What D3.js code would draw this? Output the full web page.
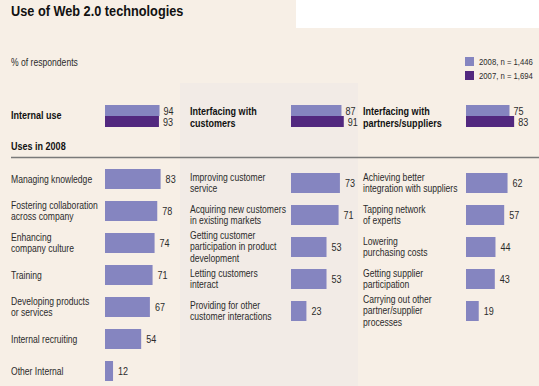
<!DOCTYPE html>
<html>
<head>
<meta charset="utf-8">
<script src="https://cdn.jsdelivr.net/npm/d3@7"></script>
<style>
  body { margin: 0; background: #f7efe6; }
  svg { display: block; font-family: "Liberation Sans", Arial, sans-serif; }
</style>
</head>
<body>
<div id="chart"></div>
<script>
// summary: share using Web 2.0 per area
var groups = ['Internal use', 'Interfacing with\ncustomers', 'Interfacing with\npartners/suppliers']
var values2008 = [94, 87, 75]
var values2007 = [93, 91, 83]

var legendLabels = ['2008, n = 1,446', '2007, n = 1,694']

// uses in 2008
var internalCats = [
  'Managing knowledge',
  'Fostering collaboration\nacross company',
  'Enhancing\ncompany culture',
  'Training',
  'Developing products\nor services',
  'Internal recruiting',
  'Other Internal',
]
var internalVals = [83, 78, 74, 71, 67, 54, 12]

var customerCats = [
  'Improving customer\nservice',
  'Acquiring new customers\nin existing markets',
  'Getting customer\nparticipation in product\ndevelopment',
  'Letting customers\ninteract',
  'Providing for other\ncustomer interactions',
]
var customerVals = [73, 71, 53, 53, 23]

var partnerCats = [
  'Achieving better\nintegration with suppliers',
  'Tapping network\nof experts',
  'Lowering\npurchasing costs',
  'Getting supplier\nparticipation',
  'Carrying out other\npartner/supplier\nprocesses',
]
var partnerVals = [62, 57, 44, 43, 19]

var width = 539
var height = 386
var light = '#8585c0'
var dark = '#52287f'
var textColor = '#2b2b2b'
var squeeze = 0.86 // condensed look

var svg = d3
  .select('#chart')
  .append('svg')
  .attr('width', width)
  .attr('height', height)

svg.append('rect').attr('width', width).attr('height', height).attr('fill', '#f7efe6')
// shaded middle column
svg.append('rect').attr('x', 180).attr('y', 83).attr('width', 178).attr('height', height - 83).attr('fill', '#f2ebe6')
// white box top right
svg.append('rect').attr('x', 296).attr('y', 0).attr('width', width - 296).attr('height', 28).attr('fill', '#ffffff')

// condensed text helper, lines is an array of strings
function label(x, y, lines, size, bold, color, lh, sx) {
  var t = svg
    .append('text')
    .attr('transform', 'translate(' + x + ',' + y + ') scale(' + (sx || squeeze) + ',1)')
    .style('font-size', size + 'px')
    .style('font-weight', bold ? 'bold' : 'normal')
    .attr('fill', color || textColor)
  lines.forEach(function(l, i) {
    t.append('tspan')
      .attr('x', 0)
      .attr('y', i * (lh || 12))
      .text(l)
  })
  return t
}

label(11, 16, ['Use of Web 2.0 technologies'], 14, true, '#111', 12, 0.91)
label(11, 66, ['% of respondents'], 10, false)

// legend
legendLabels.forEach(function(d, i) {
  svg
    .append('rect')
    .attr('x', 465)
    .attr('y', 57 + i * 14)
    .attr('width', 9)
    .attr('height', 9)
    .attr('fill', i == 0 ? light : dark)
  label(479, 65 + i * 14, [d], 9, false)
})

// top summary bars
var colLabelX = [11, 190, 363]
var colBarX = [105, 291, 466]
var xTop = d3.scaleLinear().domain([0, 100]).range([0, 58])
var topY = d3.scaleBand().domain(['2008', '2007']).range([105, 127])

groups.forEach(function(g, i) {
  var lines = g.split('\n')
  label(colLabelX[i], lines.length == 1 ? 119 : 115, lines, 10.5, true, '#111')

  var vals = [
    { year: '2008', v: values2008[i], c: light },
    { year: '2007', v: values2007[i], c: dark },
  ]
  svg
    .selectAll(null)
    .data(vals)
    .enter()
    .append('rect')
    .attr('x', colBarX[i])
    .attr('y', function(d) {
      return topY(d.year)
    })
    .attr('width', function(d) {
      return xTop(d.v)
    })
    .attr('height', topY.bandwidth())
    .attr('fill', function(d) {
      return d.c
    })
  vals.forEach(function(d) {
    label(colBarX[i] + xTop(d.v) + 4, topY(d.year) + topY.bandwidth() / 2 + 4.5, [String(d.v)], 10.5, false)
  })
})

label(11, 150, ['Uses in 2008'], 10.5, true, '#111')

svg
  .append('line')
  .attr('x1', 11)
  .attr('x2', width)
  .attr('y1', 157.5)
  .attr('y2', 157.5)
  .attr('stroke', '#7a7a7a')
  .attr('stroke-width', 1.3)

// lower section
var x = d3.scaleLinear().domain([0, 100]).range([0, 67])
var sections = [
  { cats: internalCats, vals: internalVals, top: 169 },
  { cats: customerCats, vals: customerVals, top: 173 },
  { cats: partnerCats, vals: partnerVals, top: 173 },
]

sections.forEach(function(s, i) {
  var y = d3
    .scaleBand()
    .domain(s.cats)
    .range([s.top, s.top + s.cats.length * 32 - 12])
    .paddingInner(12 / 32)

  var rows = s.cats.map(function(c, j) {
    return { cat: c, v: s.vals[j] }
  })

  svg
    .selectAll(null)
    .data(rows)
    .enter()
    .append('rect')
    .attr('x', colBarX[i])
    .attr('y', function(d) {
      return y(d.cat)
    })
    .attr('width', function(d) {
      return x(d.v)
    })
    .attr('height', y.bandwidth())
    .attr('fill', light)

  rows.forEach(function(d) {
    var mid = y(d.cat) + y.bandwidth() / 2
    label(colBarX[i] + x(d.v) + 5, mid + 4, [String(d.v)], 10.5, false)
    var lines = d.cat.split('\n')
    label(colLabelX[i], mid + 3.5 - (lines.length - 1) * 6, lines, 10, false)
  })
})
</script>
</body>
</html>
